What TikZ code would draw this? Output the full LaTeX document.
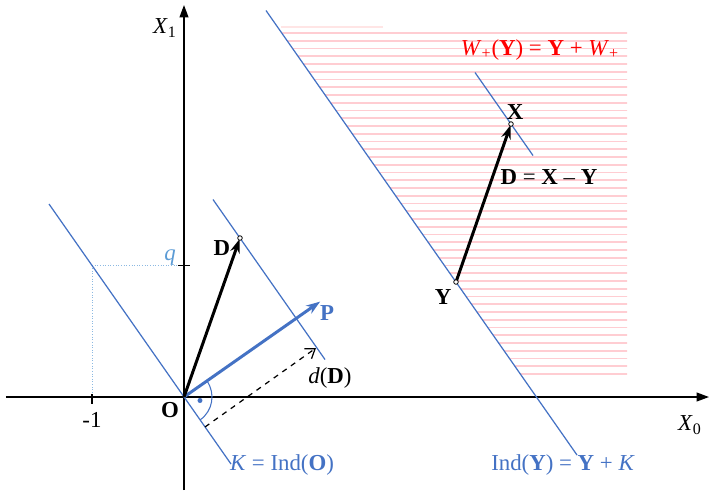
\documentclass[tikz,border=0pt]{standalone}
\usepackage{fontspec}
\setmainfont{Liberation Serif}
\usepackage{tikz}
\usetikzlibrary{arrows.meta,positioning,calc}
\definecolor{lineblue}{RGB}{68,114,196}
\definecolor{lightblue}{RGB}{91,155,213}
\definecolor{hatchred}{RGB}{255,205,210}
\definecolor{textred}{RGB}{255,0,0}

\begin{document}
\begin{tikzpicture}[
  font=\fontsize{13}{15}\selectfont,
  axis/.style={line width=0.8pt, -{Triangle[length=7pt,width=5pt]}},
  indline/.style={lineblue, line width=0.7pt},
  vec/.style={line width=1.7pt, -{Stealth[length=8pt,width=5.5pt]}, shorten >=0.6pt},
  endpt/.style={circle, draw, fill=white, inner sep=0pt, minimum size=2.6pt, line width=0.45pt},
  guide/.style={lightblue!70, densely dotted, line width=0.5pt},
  hatch/.style={hatchred, line width=1.1pt},
  lbl/.style={inner sep=1pt}
]
\useasboundingbox (-3.68,-1.86) rectangle (10.54,7.94);

% points
\coordinate (O) at (0,0);
\coordinate (P) at (2.74,1.92);
\coordinate (D) at (1.12,3.18);
\coordinate (Y) at (5.44,2.30);
\coordinate (X) at (6.54,5.46);
\coordinate (Q) at (-1.84,2.63);

% hatched region W+(Y)
\begin{scope}
  \clip (1.91,7.35) -- (8.86,7.35) -- (8.86,0.40) -- (6.77,0.40) -- cycle;
  \foreach \i in {0,...,44}
    \draw[hatch] (1.5,0.46+\i*0.155) -- (8.9,0.46+\i*0.155);
\end{scope}
\draw[red!10, line width=0.8pt] (1.94,7.40) -- (3.98,7.40);

% axes
\coordinate (x0from) at (-3.56,0);
\coordinate (x0to) at (10.5,0);
\coordinate (x1from) at (0,-1.86);
\coordinate (x1to) at (0,7.84);
\draw[axis] (x0from) -- (x0to);
\draw[axis] (x1from) -- (x1to);
\node[lbl] (x0lbl) at (10.12,-0.56) {\textit{X}\textsubscript{0}};
\node[lbl] (x1lbl) at (-0.38,7.38) {\textit{X}\textsubscript{1}};

% ticks and guides
\coordinate (Qx) at (-1.84,0);
\coordinate (Qy) at (0,2.63);
\draw[guide] (Q) -- (Qy);
\draw[guide] (Q) -- (Qx);
\draw[line width=0.8pt] ($(Qy)+(-0.12,0)$) -- ($(Qy)+(0.12,0)$);
\draw[line width=0.8pt] ($(Qx)+(0,0.06)$) -- ($(Qx)+(0,-0.14)$);
\node[lbl, lightblue] (qlbl) at (-0.28,2.78) {\textit{q}};
\node[lbl] (m1lbl) at (-1.84,-0.46) {-1};

% indifference lines
\coordinate (Ktop) at (-2.70,3.86);
\coordinate (Kbot) at (0.94,-1.34);
\coordinate (Dtop) at (0.58,3.95);
\coordinate (Dbot) at (2.82,0.75);
\coordinate (Ytop) at (1.64,7.73);
\coordinate (Ybot) at (7.86,-1.16);
\coordinate (Xtop) at (5.82,6.49);
\coordinate (Xbot) at (6.98,4.83);
\draw[indline] (Ktop) -- (Kbot);
\draw[indline] (Dtop) -- (Dbot);
\draw[indline] (Ytop) -- (Ybot);
\draw[indline] (Xtop) -- (Xbot);

% right angle mark
\draw[lineblue, line width=0.6pt] ($(O)+(35:0.56)$) arc[start angle=35, end angle=-55, radius=0.56];
\fill[lineblue] (0.32,-0.07) circle (0.05);

% distance d(D)
\coordinate (dfrom) at (0.42,-0.60);
\coordinate (dto) at (2.64,0.98);
\draw[dashed, line width=0.7pt, -{Straight Barb[length=5pt,width=7pt]}] (dfrom) -- (dto);

% vectors
\draw[vec, lineblue] (O) -- (P);
\draw[vec] (O) -- (D);
\draw[vec] (Y) -- (X);
\node[endpt] at (D) {};
\node[endpt] at (X) {};
\node[endpt] at (Y) {};

% labels
\node[lbl] (Olbl) at (-0.28,-0.26) {\textbf{O}};
\node[lbl] (Dlbl) at (0.76,2.98) {\textbf{D}};
\node[lbl, lineblue] (Plbl) at (2.86,1.68) {\textbf{P}};
\node[lbl] (dlbl) at (2.92,0.38) {\textit{d}(\textbf{D})};
\node[lbl, lineblue] (Klbl) at (1.96,-1.36) {\textit{K} = Ind(\textbf{O})};
\node[lbl] (Ylbl) at (5.18,2.00) {\textbf{Y}};
\node[lbl] (Xlbl) at (6.62,5.70) {\textbf{X}};
\node[lbl] (DXYlbl) at (7.30,4.40) {\textbf{D} = \textbf{X} – \textbf{Y}};
\node[lbl, textred] (Wlbl) at (7.12,6.94) {\textit{W}\textsubscript{+}(\textbf{Y}) = \textbf{Y} + \textit{W}\textsubscript{+}};
\node[lbl, lineblue] (IndYlbl) at (7.58,-1.36) {Ind(\textbf{Y}) = \textbf{Y} + \textit{K}};

\end{tikzpicture}
\end{document}
